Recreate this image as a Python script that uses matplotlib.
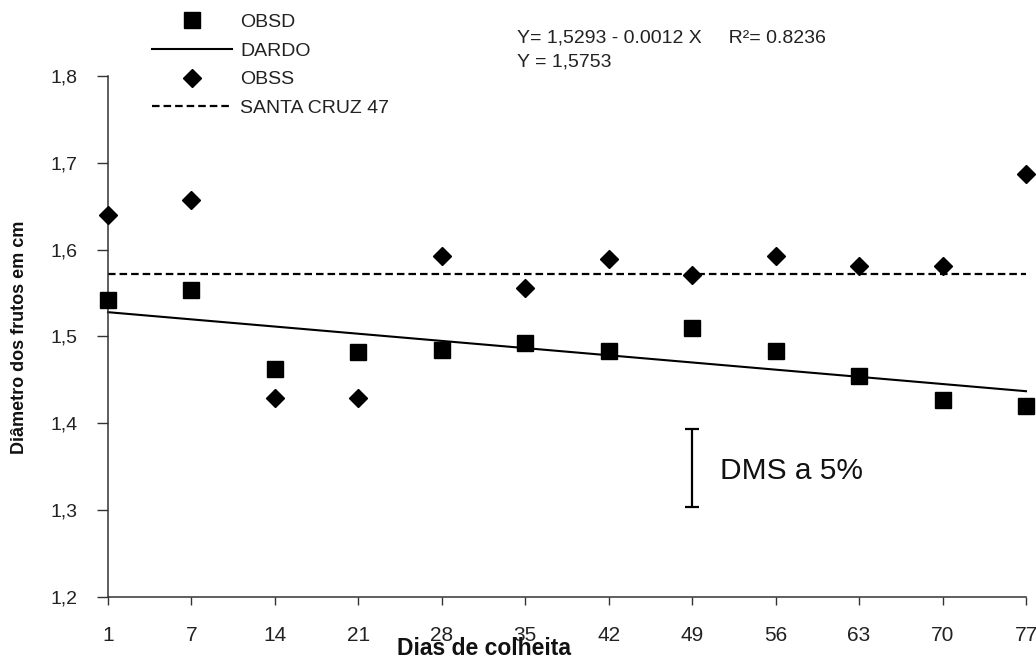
import matplotlib
matplotlib.use("Agg")
import matplotlib.pyplot as plt
from matplotlib.lines import Line2D

plt.rcParams["font.family"] = ["Liberation Sans", "DejaVu Sans"]

DAYS = ["1", "7", "14", "21", "28", "35", "42", "49", "56", "63", "70", "77"]
OBSD = [1.542, 1.553, 1.462, 1.482, 1.485, 1.493, 1.483, 1.510, 1.483, 1.454, 1.427, 1.420]
OBSS = [1.640, 1.657, 1.429, 1.429, 1.593, 1.556, 1.589, 1.571, 1.593, 1.581, 1.581, 1.687]
DARDO_ENDS = [1.528, 1.437]        # fitted line at day 1 and day 77
SANTA_CRUZ = 1.572                 # mean line
DMS_CENTER, DMS_HALF = 1.349, 0.045
DMS_POS = 7                        # drawn at the "49" category

x = list(range(len(DAYS)))

fig = plt.figure(figsize=(10.36, 6.6), dpi=100)
ax = fig.add_axes([108 / 1036, 1 - 597 / 660, (1026 - 108) / 1036, (597 - 76) / 660])

ax.plot([x[0], x[-1]], DARDO_ENDS, color="black", lw=1.5, clip_on=False)
ax.plot([x[0], x[-1]], [SANTA_CRUZ, SANTA_CRUZ], color="black", lw=1.6,
        ls=(0, (3.4, 1.8)), clip_on=False)
ax.plot(x, OBSS, ls="none", marker="D", ms=9.5, color="black", clip_on=False, zorder=3)
ax.plot(x, OBSD, ls="none", marker="s", ms=11, color="black", clip_on=False, zorder=3)

ax.errorbar([DMS_POS], [DMS_CENTER], yerr=[DMS_HALF], fmt="none", ecolor="black",
            elinewidth=1.6, capsize=5, capthick=1.6)
ax.text(DMS_POS + 0.33, DMS_CENTER - 0.004, "DMS a 5%", fontsize=21.5, va="center",
        ha="left", color="#111111")

ax.set_xlim(0, len(DAYS) - 1)
ax.set_ylim(1.2, 1.8)
ax.set_xticks(x)
ax.set_xticklabels(DAYS)
ax.set_yticks([1.2, 1.3, 1.4, 1.5, 1.6, 1.7, 1.8])
ax.set_yticklabels(["1,2", "1,3", "1,4", "1,5", "1,6", "1,7", "1,8"])
ax.tick_params(axis="x", direction="out", length=6, width=1, pad=15, labelsize=15,
               labelcolor="#222222", color="#333333")
ax.tick_params(axis="y", direction="out", length=8, width=1, pad=14, labelsize=14,
               labelcolor="#222222", color="#333333")
for s in ("top", "right"):
    ax.spines[s].set_visible(False)
for s in ("left", "bottom"):
    ax.spines[s].set_color("#333333")
    ax.spines[s].set_linewidth(1.1)

fig.text(484 / 1036, 1 - 655 / 660, "Dias de colheita", ha="center", va="baseline",
         fontsize=16.5, fontweight="bold", color="#111111")
fig.text(20 / 1036, 1 - 337 / 660, "Diâmetro dos frutos em cm", ha="center",
         va="center", rotation=90, fontsize=13, fontweight="bold", color="#111111")

fig.text(517 / 1036, 1 - 38 / 660, "Y= 1,5293 - 0.0012 X     R²= 0.8236",
         ha="left", va="center", fontsize=14, color="#222222")
fig.text(517 / 1036, 1 - 62 / 660, "Y = 1,5753", ha="left", va="center",
         fontsize=14, color="#222222")

handles = [
    Line2D([0], [0], ls="none", marker="s", ms=11, color="black"),
    Line2D([0], [0], color="black", lw=1.5),
    Line2D([0], [0], ls="none", marker="D", ms=9, color="black"),
    Line2D([0], [0], color="black", lw=1.6, ls=(0, (3.4, 1.8))),
]
labels = ["OBSD", "DARDO", "OBSS", "SANTA CRUZ 47"]
fig.legend(handles, labels, loc="upper left", bbox_to_anchor=(152 / 1036, 1 - 13 / 660),
           frameon=False, fontsize=14, handlelength=4.1, handletextpad=0.45,
           labelspacing=0.58, borderpad=0, borderaxespad=0, labelcolor="#222222")

fig.savefig("out.png", dpi=100)
